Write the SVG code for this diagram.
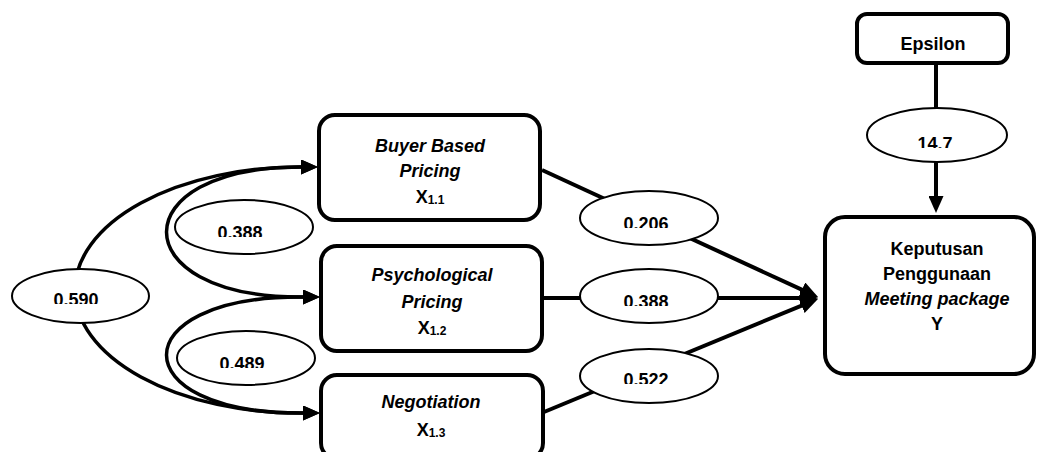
<svg xmlns="http://www.w3.org/2000/svg" width="1037" height="452" viewBox="0 0 1037 452">
<style>
  .box{fill:#fff;stroke:#000;stroke-width:4}
  .ell{fill:#fff;stroke:#000;stroke-width:2}
  .t{font-family:"Liberation Sans",Arial,sans-serif;font-size:18px;font-weight:bold;fill:#000;text-anchor:middle}
  .i{font-style:italic}
  .sub{font-size:12px}
  .con{fill:none;stroke:#000;stroke-width:4}
  .cur{fill:none;stroke:#000;stroke-width:3.5}
</style>
<defs>
  <marker id="ah" markerUnits="userSpaceOnUse" viewBox="0 0 17 15" refX="8" refY="7.5" markerWidth="17" markerHeight="15" orient="auto-start-reverse">
    <path d="M0,0 L17,7.5 L0,15 z" fill="#000"/>
  </marker>
  <marker id="ahb" markerUnits="userSpaceOnUse" viewBox="0 0 18 16" refX="10" refY="8" markerWidth="18" markerHeight="16" orient="auto">
    <path d="M0,0 L18,8 L0,16 z" fill="#000"/>
  </marker>
  <clipPath id="c590"><rect x="0" y="260" width="160" height="44"/></clipPath>
  <clipPath id="c388a"><rect x="170" y="195" width="150" height="42"/></clipPath>
  <clipPath id="c489"><rect x="170" y="325" width="150" height="43"/></clipPath>
  <clipPath id="c206"><rect x="575" y="185" width="150" height="43"/></clipPath>
  <clipPath id="c388b"><rect x="575" y="265" width="150" height="41"/></clipPath>
  <clipPath id="c522"><rect x="575" y="345" width="150" height="39"/></clipPath>
  <clipPath id="c147"><rect x="860" y="105" width="155" height="43"/></clipPath>
</defs>

<g id="connectors">
  <path class="cur" d="M309,167 L300,167 A225 123 0 0 0 300,413 L311,413" marker-start="url(#ah)" marker-end="url(#ah)"/>
  <path class="cur" d="M309,167 L300,167 C122,167 122,297 300,297 L311,297" marker-start="url(#ah)" marker-end="url(#ah)"/>
  <path class="cur" d="M311,297 L300,297 C122,297 122,413 300,413 L311,413" marker-start="url(#ah)" marker-end="url(#ah)"/>
  <path class="con" d="M542,170 L811,293.9" marker-end="url(#ahb)"/>
  <path class="con" d="M544,298 L810,298" marker-end="url(#ahb)"/>
  <path class="con" d="M544,412 L810.8,301.8" marker-end="url(#ahb)"/>
  <path class="con" d="M936,65 L936,204" marker-end="url(#ah)"/>
</g>

<g id="e590"><ellipse class="ell" cx="80.5" cy="296" rx="68.5" ry="27"/><text class="t" x="76" y="306" clip-path="url(#c590)">0.590</text></g>
<g id="e388a"><ellipse class="ell" cx="244" cy="227" rx="69" ry="27"/><text class="t" x="240" y="239" clip-path="url(#c388a)">0.388</text></g>
<g id="e489"><ellipse class="ell" cx="246" cy="358" rx="69" ry="27"/><text class="t" x="242" y="370" clip-path="url(#c489)">0.489</text></g>
<g id="e206"><ellipse class="ell" cx="649" cy="218" rx="69" ry="27"/><text class="t" x="646" y="230" clip-path="url(#c206)">0.206</text></g>
<g id="e388b"><ellipse class="ell" cx="649" cy="296" rx="69" ry="27"/><text class="t" x="646" y="308" clip-path="url(#c388b)">0.388</text></g>
<g id="e522"><ellipse class="ell" cx="649" cy="376" rx="69" ry="27"/><text class="t" x="646" y="386" clip-path="url(#c522)">0.522</text></g>
<g id="e147"><ellipse class="ell" cx="937" cy="135" rx="70" ry="27"/><text class="t" x="935" y="150" clip-path="url(#c147)">14.7</text></g>

<g id="x11">
  <rect class="box" x="319" y="115" width="221" height="105" rx="16"/>
  <text class="t i" x="430" y="151.5">Buyer Based</text>
  <text class="t i" x="430" y="177">Pricing</text>
  <text class="t" x="430" y="203">X<tspan class="sub" dy="1">1.1</tspan></text>
</g>
<g id="x12">
  <rect class="box" x="321" y="246" width="221" height="105" rx="16"/>
  <text class="t i" x="432" y="281">Psychological</text>
  <text class="t i" x="432" y="308">Pricing</text>
  <text class="t" x="432" y="334">X<tspan class="sub" dy="1">1.2</tspan></text>
</g>
<g id="x13">
  <rect class="box" x="321" y="375" width="222" height="84" rx="16"/>
  <text class="t i" x="431" y="408">Negotiation</text>
  <text class="t" x="431" y="436">X<tspan class="sub" dy="1">1.3</tspan></text>
</g>
<g id="y">
  <rect class="box" x="825" y="217" width="209" height="157" rx="20"/>
  <text class="t" x="937" y="255">Keputusan</text>
  <text class="t" x="937" y="280">Penggunaan</text>
  <text class="t i" x="937" y="305">Meeting package</text>
  <text class="t" x="937" y="330">Y</text>
</g>
<g id="epsilon">
  <rect class="box" x="857" y="14" width="151" height="49" rx="10"/>
  <text class="t" x="933" y="50">Epsilon</text>
</g>
</svg>
